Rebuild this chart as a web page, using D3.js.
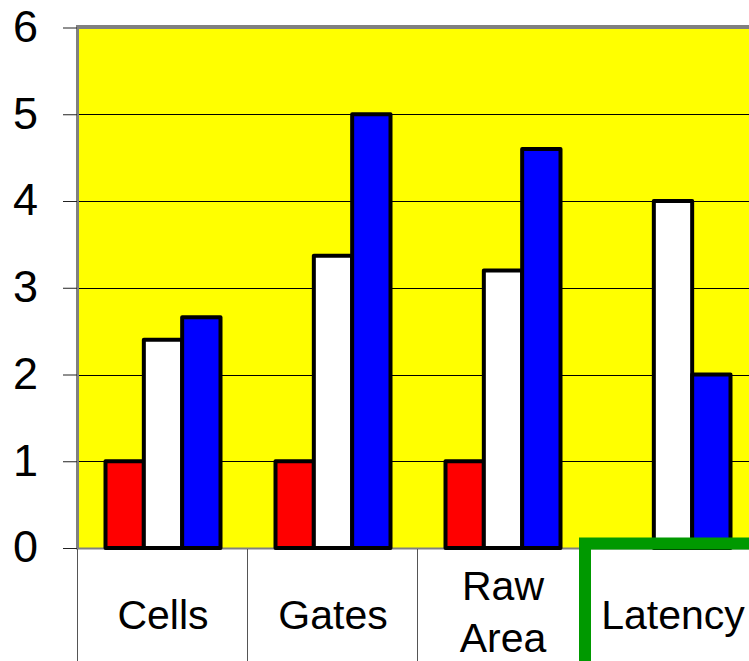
<!DOCTYPE html>
<html>
<head>
<meta charset="utf-8">
<script src="https://cdn.jsdelivr.net/npm/d3@7"></script>
<style>
  html, body { margin: 0; padding: 0; background: #ffffff; }
  svg { display: block; font-family: "Liberation Sans", Arial, sans-serif; }
</style>
</head>
<body>
<svg id="chart" width="749" height="661"></svg>
<script>
// Chart data
const categories = ["Cells", "Gates", "Raw Area", "Latency"];
const seriesKeys = ["red", "white", "blue"];
const redValues = [1, 1, 1, null];
const whiteValues = [2.4, 3.37, 3.2, 4];
const blueValues = [2.66, 5, 4.6, 2];
const yTicks = [0, 1, 2, 3, 4, 5, 6];
const seriesColors = ["#ff0000", "#ffffff", "#0000ff"];

const W = 749, H = 661;
const left = 78, bandW = 170;
const svg = d3.select("#chart");

const y = d3.scaleLinear().domain([0, 6]).range([548, 27.5]);
const x = d3.scaleBand().domain(categories)
  .range([left, left + bandW * categories.length]).padding(0);
const xSub = d3.scaleBand().domain(seriesKeys).range([27.5, 142.5]).padding(0);
const color = d3.scaleOrdinal().domain(seriesKeys).range(seriesColors);

const valuesByKey = { red: redValues, white: whiteValues, blue: blueValues };
const rows = [];
categories.forEach((c, i) => {
  seriesKeys.forEach(k => {
    const v = valuesByKey[k][i];
    if (v != null) rows.push({ cat: c, key: k, value: v });
  });
});

// Plot background
svg.append("rect")
  .attr("x", left).attr("y", y(6))
  .attr("width", W - left).attr("height", y(0) - y(6))
  .attr("fill", "#ffff00");

// Horizontal gridlines
svg.append("g").selectAll("line")
  .data(yTicks.filter(t => t > 0 && t < 6))
  .join("line")
  .attr("x1", left).attr("x2", W)
  .attr("y1", d => Math.round(y(d)) + 0.5).attr("y2", d => Math.round(y(d)) + 0.5)
  .attr("stroke", "#000").attr("stroke-width", 1);

// Plot frame: top and left borders
svg.append("line")
  .attr("x1", left - 2).attr("x2", W)
  .attr("y1", y(6) - 0.5).attr("y2", y(6) - 0.5)
  .attr("stroke", "#808080").attr("stroke-width", 4);
svg.append("line")
  .attr("x1", left - 0.5).attr("x2", left - 0.5)
  .attr("y1", y(6) - 2.5).attr("y2", y(0))
  .attr("stroke", "#808080").attr("stroke-width", 3);

// Category axis line
svg.append("line")
  .attr("x1", left - 2).attr("x2", W)
  .attr("y1", y(0) + 0.5).attr("y2", y(0) + 0.5)
  .attr("stroke", "#808080").attr("stroke-width", 2);

// Y axis ticks and labels
const yAxis = d3.axisLeft(y).tickValues(yTicks).tickSize(14).tickPadding(25)
  .tickFormat(d3.format("d"));
const gy = svg.append("g").attr("transform", `translate(${left - 1},0)`).call(yAxis);
gy.select(".domain").remove();
gy.selectAll(".tick line").attr("stroke", "#222").attr("stroke-width", 1);
gy.selectAll(".tick text")
  .attr("fill", "#000").attr("font-size", 45).attr("dy", "0.31em")
  .attr("font-family", "'Liberation Sans', Arial, sans-serif");

// Bars
svg.append("g").selectAll("rect")
  .data(rows)
  .join("rect")
  .attr("x", d => x(d.cat) + xSub(d.key))
  .attr("y", d => y(d.value))
  .attr("width", xSub.bandwidth())
  .attr("height", d => y(0) - y(d.value))
  .attr("fill", d => color(d.key))
  .attr("stroke", "#000")
  .attr("stroke-width", 4)
  .attr("stroke-linejoin", "round");

// Category table: cell dividers
svg.append("g").selectAll("line")
  .data(categories)
  .join("line")
  .attr("x1", d => Math.round(x(d)) - 0.5).attr("x2", d => Math.round(x(d)) - 0.5)
  .attr("y1", y(0) + 1).attr("y2", H)
  .attr("stroke", "#555").attr("stroke-width", 1);

// Category labels
const labelG = svg.append("g")
  .attr("font-size", 41)
  .attr("font-family", "'Liberation Sans', Arial, sans-serif")
  .attr("fill", "#000")
  .attr("text-anchor", "middle");
categories.forEach(c => {
  const lines = c.split(" ");
  const cx = x(c) + x.bandwidth() / 2;
  const baselines = lines.length === 1 ? [629] : [600, 652];
  lines.forEach((t, j) => {
    labelG.append("text")
      .attr("x", cx).attr("y", baselines[j])
      .text(t);
  });
});

// Highlight frame around the last category
const hi = categories[categories.length - 1];
svg.append("rect")
  .attr("x", x(hi) - 3).attr("y", y(0) - 4.5)
  .attr("width", 300).attr("height", 300)
  .attr("fill", "none")
  .attr("stroke", "#009900")
  .attr("stroke-width", 12);
</script>
</body>
</html>
